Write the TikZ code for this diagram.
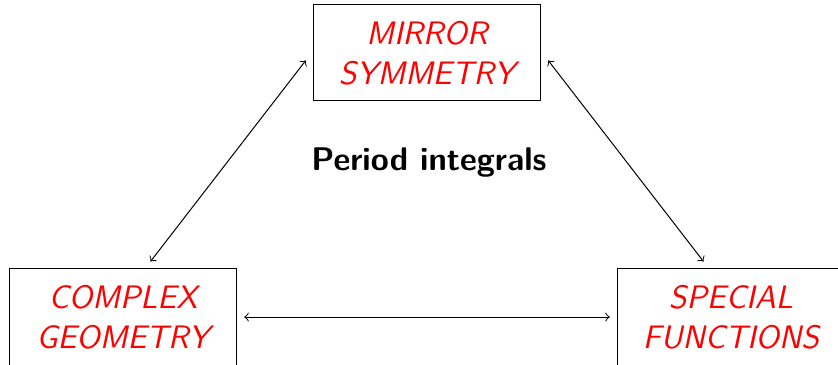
\documentclass[tikz,border=0pt]{standalone}
\usepackage{tikz}
\usetikzlibrary{positioning}

\begin{document}
\begin{tikzpicture}[x=0.4pt,y=-0.4pt,
  topic/.style={draw,outer sep=3pt,align=center,text=red,font=\fontsize{13}{16}\selectfont\sffamily\itshape,
    minimum width=91pt,minimum height=38.4pt}]
\useasboundingbox (0,0) rectangle (838,365);
\node[topic] (mirror) at (427,53) {MIRROR\\SYMMETRY};
\node[topic] (complex) at (123,317) {COMPLEX\\GEOMETRY};
\node[topic] (special) at (731,317) {SPECIAL\\FUNCTIONS};
\node[font=\fontsize{13.1}{16}\selectfont\sffamily\bfseries] (period) at (429,163) {Period integrals};
\draw[<->] ([yshift=-3pt]mirror.west) -- ([xshift=11pt]complex.north);
\draw[<->] ([yshift=-3pt]mirror.east) -- ([xshift=-11pt]special.north);
\draw[<->] (complex) -- (special);
\end{tikzpicture}
\end{document}
